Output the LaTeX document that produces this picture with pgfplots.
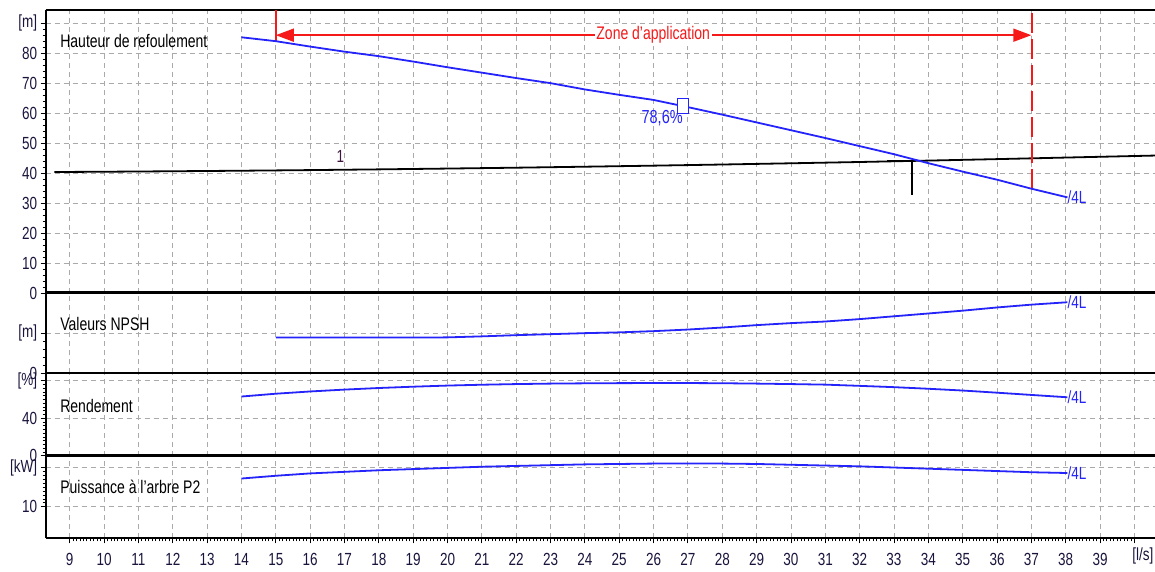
\documentclass[border=0pt]{standalone}
\usepackage{pgfplots}
\pgfplotsset{compat=1.18}
\usepackage{graphicx}
\usepackage{fontspec}
\setmainfont{Liberation Sans}
\usetikzlibrary{arrows.meta}
\definecolor{cblue}{RGB}{35,35,250}
\definecolor{cred}{RGB}{245,25,25}
\definecolor{cgrid}{RGB}{170,170,170}
\definecolor{ctick}{RGB}{25,20,60}
\tikzset{
  ptitle/.style={anchor=west, font=\fontsize{14}{15}\selectfont, yscale=1.3, inner sep=0pt},
  endlab/.style={anchor=west, text=cblue, font=\fontsize{13.5}{14}\selectfont, yscale=1.3, inner sep=0pt},
}
\pgfplotsset{
  panel/.style={
    scale only axis, width=1109.3pt,
    xmin=8.3, xmax=40.6,
    axis x line=box, axis y line=left,
    y axis line style={-, line width=1.8pt},
    x axis line style={-, line width=1.8pt},
    xtick={9,...,40},
    xmajorgrids, ymajorgrids,
    major grid style={cgrid, line width=0.9pt, dash pattern=on 5pt off 4pt},
    tick align=outside,
    major tick length=5pt, minor tick length=3pt,
    every tick/.style={black, line width=0.9pt},
    every tick label/.append style={font=\fontsize{13.5}{14}\selectfont, text=ctick, yscale=1.3},
    /pgf/number format/assume math mode=true,
    clip=true,
  },
  upper/.style={xticklabels={}, major x tick style={draw=none}, minor x tick num=0},
  curve/.style={cblue, line width=1.8pt},
}
\begin{document}
\begin{tikzpicture}
\useasboundingbox (0,0) rectangle (1155pt,-571pt);

% ---------------- Hauteur de refoulement ----------------
\begin{axis}[panel, upper,
  at={(45.7pt,-293pt)}, anchor=south west, height=283pt,
  ymin=0, ymax=94.4,
  ytick={0,10,...,90},
  yticklabels={0,10,20,30,40,50,60,70,80,{[m]}},
  minor y tick num=4]
% system curve
\addplot[black, line width=1.8pt] coordinates {
 (8.55,40.36) (10,40.45) (12,40.61) (14,40.79) (16,41.0) (18,41.24) (20,41.51)
 (22,41.8) (24,42.13) (26,42.48) (28,42.86) (30,43.27) (32,43.7) (34,44.17)
 (36,44.66) (38,45.18) (40.6,45.85)};
% duty point marker
\addplot[black, line width=2.2pt] coordinates {(32.8,44.0) (33.53,44.0)};
\addplot[black, line width=2pt] coordinates {(33.53,44.1) (33.53,32.7)};
% application zone
\addplot[cred, line width=1.6pt] coordinates {(15,83.8) (15,95)};
\addplot[cred, line width=2pt, dash pattern=on 20pt off 6pt] coordinates {(37.02,34.8) (37.02,95)};
\addplot[cred, line width=1.6pt,
  {Triangle[length=18pt,width=13pt]}-{Triangle[length=18pt,width=13pt]}]
  coordinates {(15,86) (37,86)};
% pump curve
\addplot[curve] coordinates {
 (14.0,85.3) (15,84.0) (16,82.2) (17,80.5) (18,79.0) (19,77.2) (20,75.3)
 (21,73.5) (22,71.7) (23,70.0) (24,67.9) (25,66.1) (26,64.4) (27,62.0)
 (28,59.5) (29,56.9) (30,54.3) (31,51.7) (32,49.0) (33,46.3) (34,43.3)
 (35,40.5) (36,37.8) (37,34.8) (38.05,31.9)};
% best efficiency point
\addplot[cblue, line width=1.2pt, only marks, mark=square*, mark size=5.6pt,
  mark options={fill=white, yscale=1.3}] coordinates {(26.85,62.4)};
\node[fill=white, text=cred, font=\fontsize{14}{15}\selectfont, yscale=1.3, inner sep=1.5pt]
  at (axis cs:25.99,86) {Zone d'application};
\node[ptitle] at (axis cs:8.72,84) {Hauteur de refoulement};
\node[text=cblue, font=\fontsize{14.5}{15}\selectfont, yscale=1.3] at (axis cs:26.25,58.3) {78,6\%};
\node[text={rgb,255:red,60;green,20;blue,60}, font=\fontsize{13.5}{14}\selectfont, yscale=1.3] at (axis cs:16.88,45.6) {1};
\node[endlab] at (axis cs:38.05,31.9) {/4L};
\draw[line width=3.5pt] (rel axis cs:0,0) -- (rel axis cs:1,0);
\end{axis}

% ---------------- NPSH ----------------
\begin{axis}[panel, upper,
  at={(45.7pt,-373.3pt)}, anchor=south west, height=80.3pt,
  ymin=0, ymax=20,
  ytick={0,10}, yticklabels={0,{[m]}},
  minor y tick num=4]
\addplot[curve] coordinates {
 (15,8.9) (16,8.9) (17,8.9) (18,8.9) (19,8.9) (20,8.95) (21,9.2) (22,9.5)
 (23,9.75) (24,10.0) (25,10.2) (26,10.5) (27,10.9) (28,11.4) (29,12.0)
 (30,12.5) (31,12.9) (32,13.5) (33,14.2) (34,14.9) (35,15.6) (36,16.4)
 (37,17.1) (38.05,17.7)};
\node[ptitle] at (axis cs:8.72,12.3) {Valeurs NPSH};
\node[endlab] at (axis cs:38.05,17.7) {/4L};
\draw[line width=3.5pt] (rel axis cs:0,0) -- (rel axis cs:1,0);
\end{axis}

% ---------------- Rendement ----------------
\begin{axis}[panel, upper,
  at={(45.7pt,-455.7pt)}, anchor=south west, height=82.4pt,
  ymin=0, ymax=88,
  ytick={0,40,80}, yticklabels={0,40,{[\%]}},
  minor y tick num=9]
\addplot[curve] coordinates {
 (14,63.2) (15,66.2) (16,68.6) (17,70.6) (18,72.3) (19,73.7) (20,74.9)
 (21,75.8) (22,76.5) (23,77.0) (24,77.3) (25,77.5) (26,77.6) (27,77.6)
 (28,77.4) (29,77.0) (30,76.5) (31,75.9) (32,74.6) (33,73.2) (34,71.5)
 (35,69.6) (36,67.3) (37,64.9) (38.05,62.4)};
\node[ptitle] at (axis cs:8.72,53) {Rendement};
\node[endlab] at (axis cs:38.05,62.4) {/4L};
\draw[line width=3.5pt] (rel axis cs:0,0) -- (rel axis cs:1,0);
\end{axis}

% ---------------- Puissance ----------------
\begin{axis}[panel,
  at={(45.7pt,-538.3pt)}, anchor=south west, height=82.6pt,
  ymin=2, ymax=23,
  ytick={10,20}, yticklabels={10,{[kW]}},
  minor y tick num=9,
  xtick pos=left,
  minor x tick num=9,
  xticklabels={9,10,11,12,13,14,15,16,17,18,19,20,21,22,23,24,25,26,27,28,29,30,31,32,33,34,35,36,37,38,39,{}},
  extra x ticks={40.25}, extra x tick labels={{[l/s]}},
  extra x tick style={grid=none, major tick length=0pt},
  xticklabel style={yshift=-4pt}]
\addplot[curve] coordinates {
 (14,17.2) (15,17.9) (16,18.5) (17,18.9) (18,19.3) (19,19.6) (20,19.9)
 (21,20.2) (22,20.4) (23,20.6) (24,20.8) (25,20.9) (26,21.0) (27,21.0)
 (28,21.0) (29,20.9) (30,20.7) (31,20.5) (32,20.3) (33,20.0) (34,19.7)
 (35,19.4) (36,19.1) (37,18.8) (38.05,18.6)};
\node[ptitle] at (axis cs:8.72,15) {Puissance à l'arbre P2};
\node[endlab] at (axis cs:38.05,18.6) {/4L};
\draw[line width=3pt] (rel axis cs:0,0) -- (rel axis cs:1,0);
\end{axis}
\end{tikzpicture}
\end{document}
